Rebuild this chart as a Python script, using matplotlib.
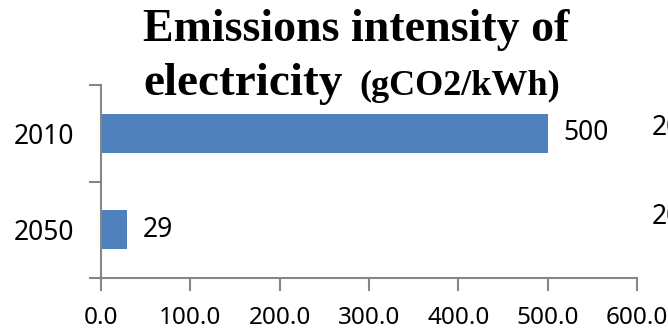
import matplotlib.pyplot as plt

# emissions intensity by year (gCO2/kWh)
years = ['2010', '2050']
intensity = [500, 29]
xticks = [0, 100, 200, 300, 400, 500, 600]
legend_years = ['2010', '2050']

bar_color = '#4F81BD'
axis_color = '#868686'
label_font = ['Noto Sans', 'DejaVu Sans']
label_size = 19

W, H = 668, 330
fig = plt.figure(figsize=(W / 100, H / 100), dpi=100)
ax = fig.add_axes([101 / W, 1 - 278 / H, 536 / W, 193 / H])

pos = list(range(len(years)))[::-1]
ax.barh(pos, intensity, height=0.4, color=bar_color)
ax.set_ylim(-0.5, 1.5)
ax.set_xlim(0, 600)

ax.set_xticks(xticks)
ax.set_xticklabels([f'{v:.1f}' for v in xticks], family=label_font, fontsize=17.5)
ax.set_yticks(pos)
ax.set_yticklabels(years, family=label_font, fontsize=label_size)
# ticks at category boundaries, labels in the middle
ax.set_yticks([-0.5, 0.5, 1.5], minor=True)
ax.tick_params(axis='y', which='major', length=0, pad=19)
ax.tick_params(axis='y', which='minor', length=9, color=axis_color, width=1.5)
ax.tick_params(axis='x', length=9, color=axis_color, width=1.5, pad=11)

for side in ['top', 'right']:
    ax.spines[side].set_visible(False)
for side in ['left', 'bottom']:
    ax.spines[side].set_color(axis_color)
    ax.spines[side].set_linewidth(1.5)

for p, v in zip(pos, intensity):
    ax.text(v + 18, p, str(v), va='center', ha='left', family=label_font, fontsize=label_size)

# title: big bold serif with smaller units
fig.text(356 / W, 1 - 41 / H, 'Emissions intensity of', ha='center', va='baseline',
         family='Liberation Serif', weight='bold', fontsize=33)
fig.text(343 / W, 1 - 95 / H, 'electricity', ha='right', va='baseline',
         family='Liberation Serif', weight='bold', fontsize=34)
fig.text(359 / W, 1 - 95 / H, '(gCO2/kWh)', ha='left', va='baseline',
         family='Liberation Serif', weight='bold', fontsize=26)

# legend entries running off the right edge
for y, t in zip([128, 217], legend_years):
    fig.text(652 / W, 1 - y / H, t, ha='left', va='center', family=label_font, fontsize=label_size)

fig.savefig('out.png', dpi=100)
